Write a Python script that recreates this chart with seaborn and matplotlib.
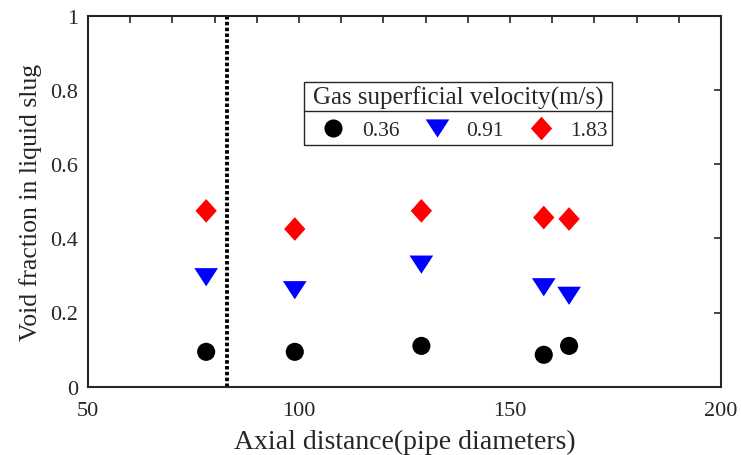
import numpy as np
import pandas as pd
import matplotlib
matplotlib.use("Agg")
import matplotlib.pyplot as plt
from matplotlib.ticker import MultipleLocator, FixedLocator, FuncFormatter
from matplotlib.lines import Line2D
import seaborn as sns

# data
axial_distance = [78, 99, 129, 158, 164]
void_036 = [0.094, 0.094, 0.110, 0.086, 0.110]
void_091 = [0.295, 0.260, 0.329, 0.268, 0.245]
void_183 = [0.474, 0.425, 0.474, 0.456, 0.452]
velocities = ["0.36", "0.91", "1.83"]
boundary_x = 83

df = pd.concat([
    pd.DataFrame({"x": axial_distance, "y": v, "vel": lab})
    for v, lab in zip([void_036, void_091, void_183], velocities)
], ignore_index=True)

sns.set_style("white")
plt.rcParams["font.family"] = ["Liberation Serif", "DejaVu Serif"]

EDGE = "#262626"
tri = [(-1, 0.77), (1, 0.77), (0, -0.77)]
dia = [(0, 1), (0.9, 0), (0, -1), (-0.9, 0)]

fig, ax = plt.subplots(figsize=(7.41, 4.56), dpi=100)
fig.subplots_adjust(left=88 / 741, right=721 / 741, top=1 - 16.7 / 456, bottom=1 - 387.7 / 456)

sns.scatterplot(data=df, x="x", y="y", hue="vel", style="vel", size="vel",
                hue_order=velocities, style_order=velocities, size_order=velocities,
                palette={"0.36": "black", "0.91": "blue", "1.83": "red"},
                markers={"0.36": "o", "0.91": tri, "1.83": dia},
                sizes={"0.36": 170, "0.91": 290, "1.83": 290},
                edgecolor="none", linewidth=0, legend="full", ax=ax, zorder=3)

ax.axvline(boundary_x, color="black", lw=2.8, linestyle=(0, (0.9, 0.6)), zorder=2)

ax.set_xlim(50, 200)
ax.set_ylim(0, 1)
ax.xaxis.set_major_locator(FixedLocator([50, 100, 150, 200]))
ax.xaxis.set_minor_locator(MultipleLocator(10))
ax.yaxis.set_major_locator(MultipleLocator(0.2))
ax.yaxis.set_major_formatter(FuncFormatter(lambda v, p: f"{v:g}"))
ax.tick_params(which="both", direction="in", top=True, right=True, length=5,
               width=1.2, color=EDGE, labelsize=16, labelcolor=EDGE)
ax.tick_params(axis="x", pad=10)
ax.tick_params(axis="y", pad=7)
for s in ax.spines.values():
    s.set_linewidth(1.5)
    s.set_color(EDGE)

ax.set_xlabel("Axial distance(pipe diameters)", fontsize=20, color=EDGE, labelpad=7)
ax.set_ylabel("Void fraction in liquid slug", fontsize=18.5, color=EDGE, labelpad=6)

h, l = ax.get_legend_handles_labels()
ax.get_legend().remove()
leg = ax.legend(h, l, ncol=3, title="Gas superficial velocity(m/s)", fontsize=15.5,
                title_fontsize=18, loc="upper left", bbox_to_anchor=(0.341, 0.822),
                borderaxespad=0, fancybox=False, framealpha=1, edgecolor=EDGE,
                handletextpad=0.2, columnspacing=0.6, borderpad=0.2, handlelength=2.3)
leg.get_frame().set_linewidth(1.0)
for t in leg.get_texts():
    t.set_color(EDGE)
leg.get_title().set_color(EDGE)

fig.canvas.draw()
lb = leg.get_window_extent()
tb = leg.get_title().get_window_extent()
inv = fig.transFigure.inverted()
yline = tb.y0 - 2
(x0, y0), (x1, _) = inv.transform([(lb.x0, yline), (lb.x1, yline)])
fig.add_artist(Line2D([x0, x1], [y0, y0], transform=fig.transFigure, color=EDGE, lw=1.0, zorder=10))

fig.savefig("out.png", dpi=100)
